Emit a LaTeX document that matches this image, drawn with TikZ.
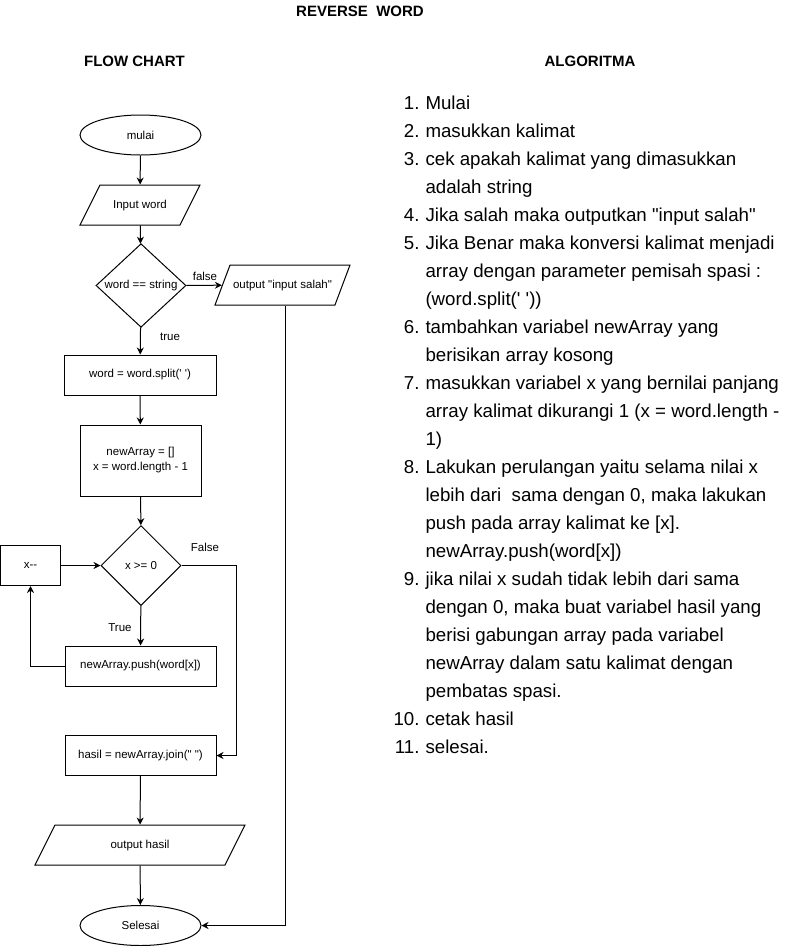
\documentclass[tikz,border=0pt]{standalone}
\usepackage{fontspec}
\setmainfont{Liberation Sans}[Ligatures=TeXOff]
\usetikzlibrary{arrows.meta,shapes.geometric}

\begin{document}
\begin{tikzpicture}[x=1pt,y=-1pt,line width=1pt,
    every node/.style={font=\fontsize{11.5}{15}\selectfont},
    terminal/.style={ellipse,draw,minimum width=121pt,minimum height=40pt,inner sep=0pt},
    io/.style={trapezium,trapezium left angle=63.4,trapezium right angle=116.6,
      trapezium stretches body,draw,text height=8.6pt,text depth=2.5pt,
      inner ysep=14.45pt,inner xsep=0pt},
    process/.style={rectangle,draw,minimum height=40pt,inner sep=0pt},
    decision/.style={diamond,draw,minimum width=80pt,minimum height=80pt,inner sep=0pt},
    flow/.style={-{Stealth[length=7pt,width=7pt]}},
    title/.style={font=\fontsize{15}{18}\selectfont\bfseries,anchor=base,inner sep=0pt},
    algo/.style={font=\fontsize{18.7}{22}\selectfont,inner sep=0pt}]
  \useasboundingbox (0,0) rectangle (801,946);
  % Titles
  \node[title] (judul) at (360,16.7) {REVERSE\ \ WORD};
  \node[title] (fc) at (134.5,66) {FLOW CHART};
  \node[title] (alg) at (590,66) {ALGORITMA};
  % Flow chart
  \node[terminal] (mulai) at (140.5,135) {mulai};
  \node[io,minimum width=120pt] (input) at (140,205) {Input word};
  \node[decision,minimum width=90pt] (cek) at (141,285.5) {word == string};
  \node[io,minimum width=135pt,trapezium left angle=69.4,trapezium right angle=110.6] (salah) at (282.5,285) {output "input salah"};
  \node[process,minimum width=152pt] (split) at (140,375) {word = word.split(' ')};
  \node[process,minimum width=121pt,minimum height=71pt,align=center] (init) at (140.5,460.5) {newArray = []\\x = word.length - 1};
  \node[decision] (cekx) at (141,565.5) {x >= 0};
  \node[process,minimum width=60pt] (kurang) at (30.5,565.5) {x--};
  \node[process,minimum width=151pt] (push) at (140.5,666) {newArray.push(word[x])};
  \node[process,minimum width=151pt] (hasil) at (140.5,755.5) {hasil = newArray.join(" ")};
  \node[io,minimum width=210pt] (cetak) at (140,845) {output hasil};
  \node[terminal] (selesai) at (140.5,925.5) {Selesai};
  \coordinate (belok) at (236,565.5);
  % Connectors
  \draw[flow] (mulai) -- (input);
  \draw[flow] (input) -- (cek);
  \draw[flow] (cek) -- (salah);
  \draw[flow] (cek) -- (split);
  \draw[flow] (split) -- (init);
  \draw[flow] (init) -- (cekx);
  \draw[flow] (kurang) -- (cekx);
  \draw[flow] (cekx) -- (push);
  \draw[flow] (push.west) -| (kurang.south);
  \draw[flow] (cekx.east) -- (belok) |- (hasil.east);
  \draw[flow] ([xshift=2.5pt]salah.south) |- (selesai.east);
  \draw[flow] (hasil) -- (cetak);
  \draw[flow] (cetak) -- (selesai);
  % Labels
  \node[anchor=base,inner sep=0pt] (lfalse) at (205,280) {false};
  \node[anchor=base,inner sep=0pt] (ltrue) at (170,340) {true};
  \node[anchor=base,inner sep=0pt] (lFalse) at (205,551) {False};
  \node[anchor=base,inner sep=0pt] (lTrue) at (120,631) {True};
  % Algoritma
  \foreach \k/\n/\t in {0/1./Mulai, 1/2./masukkan kalimat,
      2/3./cek apakah kalimat yang dimasukkan, 3//adalah string,
      4/4./Jika salah maka outputkan "input salah",
      5/5./Jika Benar maka konversi kalimat menjadi,
      6//array dengan parameter pemisah spasi :, 7//(word.split(' ')),
      8/6./tambahkan variabel newArray yang, 9//berisikan array kosong,
      10/7./masukkan variabel x yang bernilai panjang,
      11//array kalimat dikurangi 1 (x = word.length -, 12//1),
      13/8./Lakukan perulangan yaitu selama nilai x,
      14//{lebih dari\ \ sama dengan 0, maka lakukan},
      15//push pada array kalimat ke [x]., 16//newArray.push(word[x]),
      17/9./jika nilai x sudah tidak lebih dari sama,
      18//{dengan 0, maka buat variabel hasil yang},
      19//berisi gabungan array pada variabel,
      20//newArray dalam satu kalimat dengan, 21//pembatas spasi.,
      22/10./cetak hasil, 23/11./selesai.}
  {
    \node[algo,anchor=base east] (num-\k) at (420,109.3+28*\k) {\n};
    \node[algo,anchor=base west] (baris-\k) at (425,109.3+28*\k) {\t};
  }
\end{tikzpicture}
\end{document}
